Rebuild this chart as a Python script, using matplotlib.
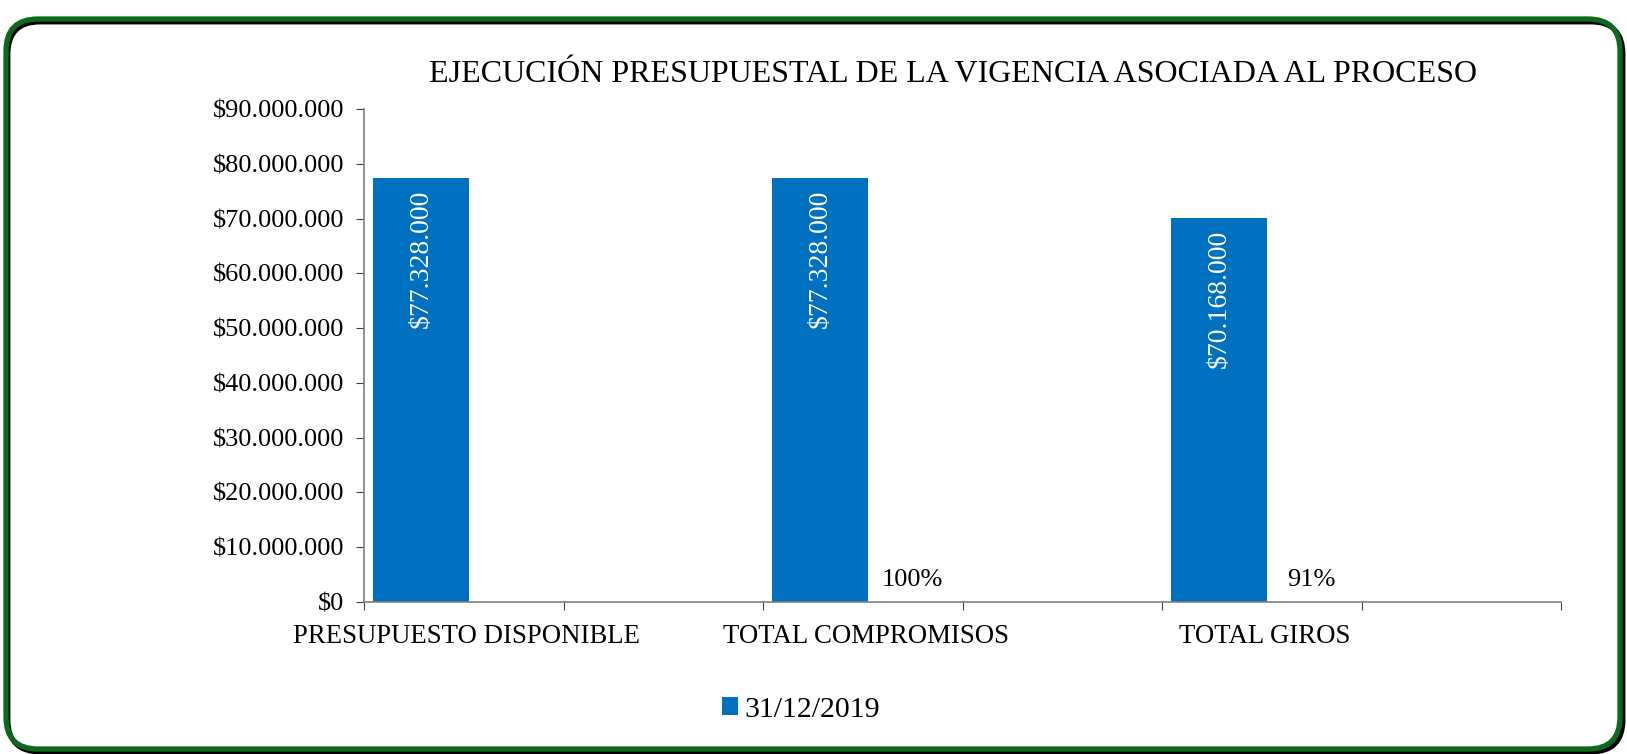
import matplotlib
matplotlib.use("Agg")
import matplotlib.pyplot as plt
from matplotlib.patches import FancyBboxPatch
from matplotlib.ticker import FuncFormatter, MultipleLocator, FixedLocator

categorias = ["PRESUPUESTO DISPONIBLE", "TOTAL COMPROMISOS", "TOTAL GIROS"]
valores = [77328000, 77328000, 70168000]
porcentajes = [0.0, 1.00, 0.91]
etiquetas_pct = ["", "100%", "91%"]
serie = "31/12/2019"
titulo = "EJECUCIÓN PRESUPUESTAL DE LA VIGENCIA ASOCIADA AL PROCESO"

plt.rcParams['font.family'] = ['Liberation Serif', 'DejaVu Serif']

W, H = 1627, 754
fig = plt.figure(figsize=(W / 100, H / 100), dpi=100)
fig.patch.set_facecolor("white")

# rounded border with shadow
shadow = FancyBboxPatch((8, 2), 1615, 730, boxstyle="round,pad=0,rounding_size=32",
                        transform=None, facecolor="none", edgecolor="black", linewidth=3.5, zorder=0)
border = FancyBboxPatch((6, 5), 1614, 730, boxstyle="round,pad=0,rounding_size=32",
                        transform=None, facecolor="none", edgecolor="#0b6a1c", linewidth=3.8, zorder=1)
fig.patches.append(shadow)
fig.patches.append(border)

ax = fig.add_axes([364 / W, 1 - 602 / H, (1561 - 364) / W, (602 - 109) / H])

azul = "#0070C0"
x = list(range(len(categorias)))
x_bar = [i + 0.143 for i in x]
x_pct = [i + 0.375 for i in x]
bars = ax.bar(x_bar, valores, width=0.24, color=azul, label=serie, zorder=2)
ax.bar_label(bars, labels=["$" + f"{v:,}".replace(",", ".") for v in valores],
             label_type="edge", padding=-108, rotation=90, color="white", fontsize=20)
pbars = ax.bar(x_pct, porcentajes, width=0.24, color="none", zorder=2)
ax.bar_label(pbars, labels=etiquetas_pct, padding=8, fontsize=19, color="black")

ax.set_xlim(0, len(categorias))
ax.set_ylim(0, 90000000)
ax.yaxis.set_major_locator(MultipleLocator(10000000))
ax.yaxis.set_major_formatter(FuncFormatter(lambda v, p: "$" + f"{int(v):,}".replace(",", ".")))

ax.xaxis.set_major_locator(MultipleLocator(0.5))
ax.xaxis.set_major_formatter(FuncFormatter(lambda v, p: ""))
ax.xaxis.set_minor_locator(FixedLocator([i + 0.257 for i in x]))
ax.set_xticklabels(categorias, minor=True)
ax.tick_params(axis="x", which="minor", length=0, pad=16, labelsize=19.3)
ax.tick_params(axis="x", which="major", length=6, direction="out", color="#404040")
ax.tick_params(axis="y", length=6, direction="out", labelsize=19, color="#404040", pad=8)

for s in ["top", "right"]:
    ax.spines[s].set_visible(False)
for s in ["left", "bottom"]:
    ax.spines[s].set_color("#7f7f7f")
    ax.spines[s].set_linewidth(1.2)

fig.text(953 / W, 1 - 75 / H, titulo, ha="center", va="center", fontsize=23)

fig.legend(handles=[bars], labels=[serie], loc="center", bbox_to_anchor=(801 / W, 1 - 710 / H),
           frameon=False, fontsize=21.5, handlelength=0.55, handleheight=0.55, handletextpad=0.2)

fig.savefig("out.png", dpi=100, facecolor="white")
